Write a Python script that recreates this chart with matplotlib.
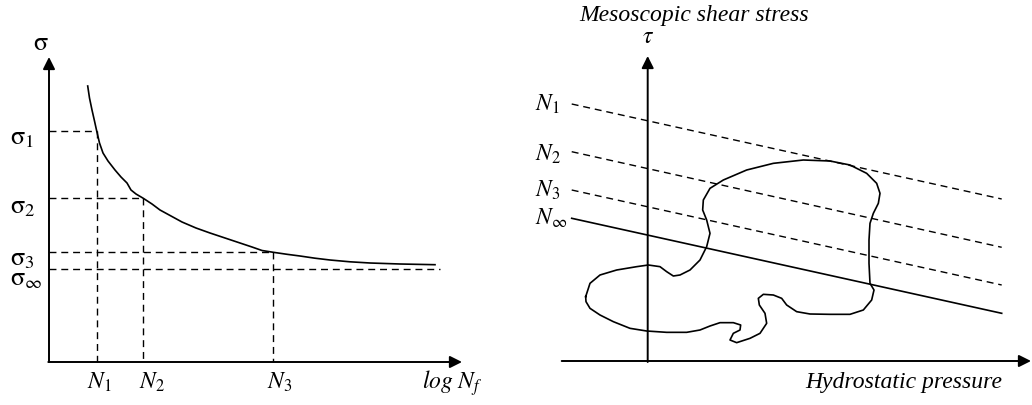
"""Fatigue curve (S-N) and mesoscopic shear stress schematic."""
import numpy as np
import matplotlib.pyplot as plt

plt.rcParams['font.family'] = 'Liberation Serif'
plt.rcParams['mathtext.fontset'] = 'stix'

# Everything in picture pixels (x right, y down)
# Left panel: S-N curve
SN_X = [87.7, 89.5, 92, 94.5, 96.7, 99.5, 103, 108, 115, 121, 127, 131,
        136, 143.3, 152, 160, 171, 182, 196, 210, 225, 240, 252, 262,
        273.3, 287, 300, 315, 330, 350, 370, 400, 435]
SN_Y = [86, 98, 110, 121, 131, 143, 153, 161, 170, 177, 183, 190,
        194, 198.3, 204, 210, 216, 222, 228, 233, 238, 243, 247, 250.5,
        252.3, 254.3, 256, 258.2, 260, 261.8, 263, 264, 264.7]
N_LEVELS_X = [96.7, 143.3, 273.3]
SIGMA_LEVELS_Y = [131, 198.3, 252.3]
SIGMA_INF_Y = 269
SIGMA_LABELS = [r'$\mathrm{\sigma}_1$', r'$\mathrm{\sigma}_2$',
                r'$\mathrm{\sigma}_3$', r'$\mathrm{\sigma}_\infty$']
SIGMA_LABEL_BASE = [144, 213, 265, 285]
N_LABELS = [r'$N_1$', r'$N_2$', r'$N_3$']
N_LABEL_LEFT = [87, 139, 267]

# Right panel: iso-life lines
ISO_LABELS = [r'$N_1$', r'$N_2$', r'$N_3$', r'$N_\infty$']
ISO_LABEL_BASE = [111, 161, 197, 225]
ISO_Y_START = [104, 151.7, 190, 218.3]
ISO_Y_END = [199, 247.3, 285, 313.3]
ISO_X = (571.7, 1001.7)

# Loading path (zoomed-in coordinates, scale 3, origin (520, 0))
BLOB_ZX = [197, 210, 240, 290, 350, 385, 420, 440, 460, 480, 510, 540, 560,
           570, 560, 548, 550, 570, 610, 680, 760, 850, 930, 990, 1040, 1070,
           1080, 1075, 1060, 1050, 1047, 1047, 1050, 1062, 1055, 1030, 990,
           930, 870, 830, 800, 785, 760, 730, 715, 718, 735, 740, 720, 690,
           650, 630, 640, 660, 662, 640, 600, 570, 540, 500, 440, 380, 330,
           280, 240, 210, 198, 197]
BLOB_ZY = [890, 850, 825, 810, 800, 795, 800, 815, 828, 825, 810, 780, 740,
           700, 660, 630, 600, 565, 540, 510, 490, 480, 483, 495, 520, 550,
           580, 610, 640, 670, 720, 790, 850, 870, 900, 930, 943, 943, 942,
           935, 915, 895, 885, 883, 895, 915, 940, 970, 1000, 1015, 1028,
           1020, 1000, 990, 975, 968, 968, 978, 990, 997, 997, 993, 985, 965,
           945, 925, 905, 890]


def arrow(ax, start, tip):
    ax.annotate('', xy=tip, xytext=start,
                arrowprops=dict(arrowstyle='-|>', lw=1.4, color='k',
                                mutation_scale=18, shrinkA=0, shrinkB=0))


def main():
    fig = plt.figure(figsize=(10.32, 4.05), dpi=100)
    ax = fig.add_axes([0, 0, 1, 1])
    ax.set_xlim(0, 1032)
    ax.set_ylim(405, 0)
    ax.axis('off')

    dash = dict(color='k', lw=1.0, ls=(0, (5, 3.5)))
    fs = 17

    # left panel
    arrow(ax, (49, 362), (49, 57))
    arrow(ax, (48.3, 362), (462, 362))
    ax.plot(SN_X, SN_Y, color='k', lw=1.2)
    for x, y in zip(N_LEVELS_X, SIGMA_LEVELS_Y):
        ax.plot([49, x], [y, y], **dash)
        ax.plot([x, x], [y, 362], **dash)
    ax.plot([49, 440], [SIGMA_INF_Y, SIGMA_INF_Y], **dash)
    for lab, y in zip(SIGMA_LABELS, SIGMA_LABEL_BASE):
        ax.text(10, y, lab, fontsize=19, ha='left', va='baseline')
    ax.text(33, 50, r'$\mathrm{\sigma}$', fontsize=19, ha='left',
            va='baseline')
    for lab, x in zip(N_LABELS, N_LABEL_LEFT):
        ax.text(x, 389, lab, fontsize=fs, ha='left', va='baseline')
    ax.text(422, 389, r'$log\ N_f$', fontsize=fs, ha='left', va='baseline')

    # right panel
    arrow(ax, (647.7, 362), (647.7, 56))
    arrow(ax, (561.7, 361), (1031, 361))
    for i, (y0, y1) in enumerate(zip(ISO_Y_START, ISO_Y_END)):
        style = dash if i < 3 else dict(color='k', lw=1.2)
        ax.plot(ISO_X, [y0, y1], **style)
        ax.text(535, ISO_LABEL_BASE[i], ISO_LABELS[i], fontsize=fs,
                ha='left', va='baseline')
    bx = [520 + v / 3 for v in BLOB_ZX]
    by = [v / 3 for v in BLOB_ZY]
    ax.plot(bx, by, color='k', lw=1.2)
    ax.text(648, 43, r'$\tau$', fontsize=fs, ha='center', va='baseline')
    ax.text(694, 21, 'Mesoscopic shear stress', fontsize=17, style='italic',
            ha='center', va='baseline')
    ax.text(1002, 388, 'Hydrostatic pressure', fontsize=17, style='italic',
            ha='right', va='baseline')

    fig.savefig('out.png', dpi=100)
    plt.close()


if __name__ == '__main__':
    main()
